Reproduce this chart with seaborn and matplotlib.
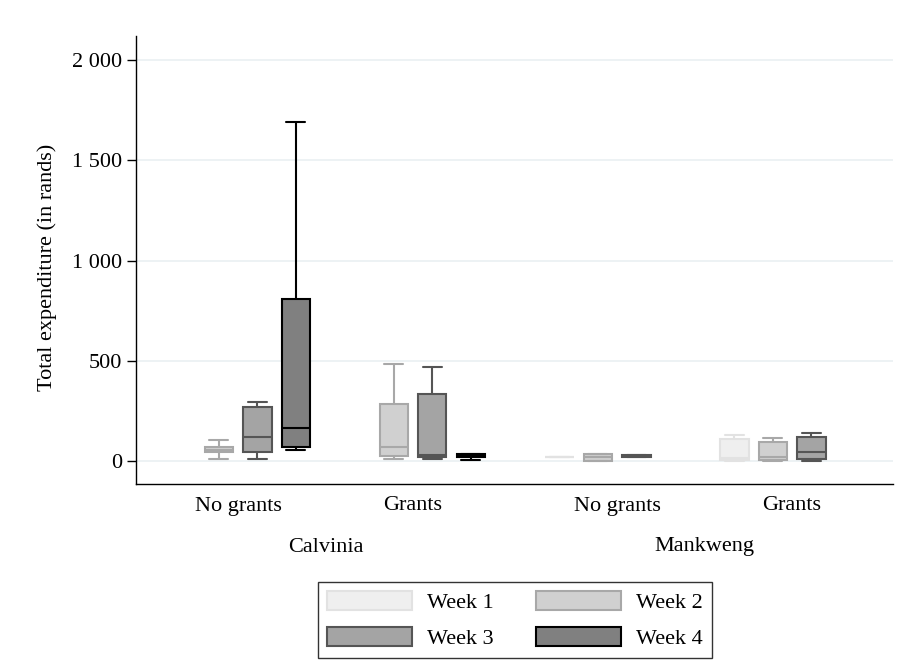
import numpy as np
import pandas as pd
import matplotlib
matplotlib.use("Agg")
import matplotlib.pyplot as plt
from matplotlib.patches import Patch
import seaborn as sns

sns.set_style("white")
plt.rcParams["font.family"] = ["Liberation Serif", "DejaVu Serif"]
plt.rcParams["text.color"] = "black"
plt.rcParams["axes.labelcolor"] = "black"
plt.rcParams["xtick.color"] = "black"
plt.rcParams["ytick.color"] = "black"

# ---- data (five-number summaries: low, Q1, median, Q3, high) ----
weeks = ["Week 1", "Week 2", "Week 3", "Week 4"]
group_labels = ["No grants", "Grants", "No grants", "Grants"]
sites = ["Calvinia", "Calvinia", "Mankweng", "Mankweng"]

calvinia_no_grants = {
    "Week 2": [8, 43, 56, 68, 103],
    "Week 3": [12, 46, 118, 270, 293],
    "Week 4": [56, 71, 163, 808, 1690],
}
calvinia_grants = {
    "Week 2": [8, 23, 70, 286, 483],
    "Week 3": [10, 22, 28, 333, 470],
    "Week 4": [5, 20, 28, 35, 35],
}
mankweng_no_grants = {
    "Week 1": [19, 19, 20, 21, 21],
    "Week 2": [2, 2, 18, 33, 33],
    "Week 3": [22, 22, 27, 30, 30],
}
mankweng_grants = {
    "Week 1": [0, 5, 15, 110, 130],
    "Week 2": [0, 3, 20, 97, 113],
    "Week 3": [0, 8, 47, 118, 137],
}
y_ticks = [0, 500, 1000, 1500, 2000]
y_tick_labels = ["0", "500", "1 000", "1 500", "2 000"]

# ---- layout / style ----
group_pos = [0.0, 1.0, 2.166, 3.166]
fills = {"Week 1": "#efefef", "Week 2": "#d0d0d0", "Week 3": "#a4a4a4", "Week 4": "#808080"}
edges = {"Week 1": "#e2e2e2", "Week 2": "#a8a8a8", "Week 3": "#555555", "Week 4": "#000000"}
FS = 16

all_groups = [calvinia_no_grants, calvinia_grants, mankweng_no_grants, mankweng_grants]
rows = []
for pos, grp in zip(group_pos, all_groups):
    for w, vals in grp.items():
        for v in vals:
            rows.append({"pos": pos, "week": w, "value": v})
df = pd.DataFrame(rows)

W, H = 901, 664
fig = plt.figure(figsize=(W / 100, H / 100), dpi=100)
ax = fig.add_axes([136 / W, 1 - 484 / H, (893 - 136) / W, (484 - 36) / H])

for w in weeks:
    sub = df[df["week"] == w]
    if sub.empty:
        continue
    sns.boxplot(data=sub, x="pos", y="value", hue="week", hue_order=weeks,
                palette=fills, native_scale=True, dodge=True, width=0.88, gap=0.26,
                whis=(0, 100), linecolor=edges[w], linewidth=1.5, saturation=1,
                legend=False, ax=ax, capwidths=0.11)

ax.set_xlim(-0.583, 3.743)
ax.set_ylim(-115, 2120)
ax.set_yticks(y_ticks)
ax.set_yticklabels(y_tick_labels)
ax.set_xticks(group_pos)
ax.set_xticklabels(group_labels)
ax.tick_params(axis="y", length=6.5, width=1, pad=3.5, labelsize=FS, direction="out", left=True)
ax.tick_params(axis="x", length=0, pad=9, labelsize=FS)
ax.set_xlabel("")
ax.set_ylabel("")
ax.yaxis.grid(True, color="#eaf0f2", lw=1.2)
ax.xaxis.grid(False)
ax.set_axisbelow(True)
for s in ["top", "right"]:
    ax.spines[s].set_visible(False)
for s in ["left", "bottom"]:
    ax.spines[s].set_color("black")
    ax.spines[s].set_linewidth(1.0)

fig.text(47 / W, 1 - 267 / H, "Total expenditure (in rands)", rotation=90,
         ha="center", va="center", fontsize=FS)

trans = matplotlib.transforms.blended_transform_factory(ax.transData, fig.transFigure)
fig.text((group_pos[0] + group_pos[1]) / 2, 1 - 547 / H, sites[0], transform=trans,
         ha="center", va="center", fontsize=FS)
fig.text((group_pos[2] + group_pos[3]) / 2, 1 - 547 / H, sites[2], transform=trans,
         ha="center", va="center", fontsize=FS)

handles = [Patch(facecolor=fills[w], edgecolor=edges[w], linewidth=1.5, label=w) for w in weeks]
order = [0, 2, 1, 3]
leg = fig.legend([handles[i] for i in order], [weeks[i] for i in order], ncol=2,
                 loc="center", bbox_to_anchor=(515 / W, 1 - 620 / H), fontsize=FS,
                 frameon=True, fancybox=False, edgecolor="black", handlelength=3.8,
                 handleheight=0.95, handletextpad=0.7, columnspacing=1.9,
                 labelspacing=0.6, borderpad=0.4)
leg.get_frame().set_linewidth(1.0)

fig.savefig("out.png", dpi=100)
